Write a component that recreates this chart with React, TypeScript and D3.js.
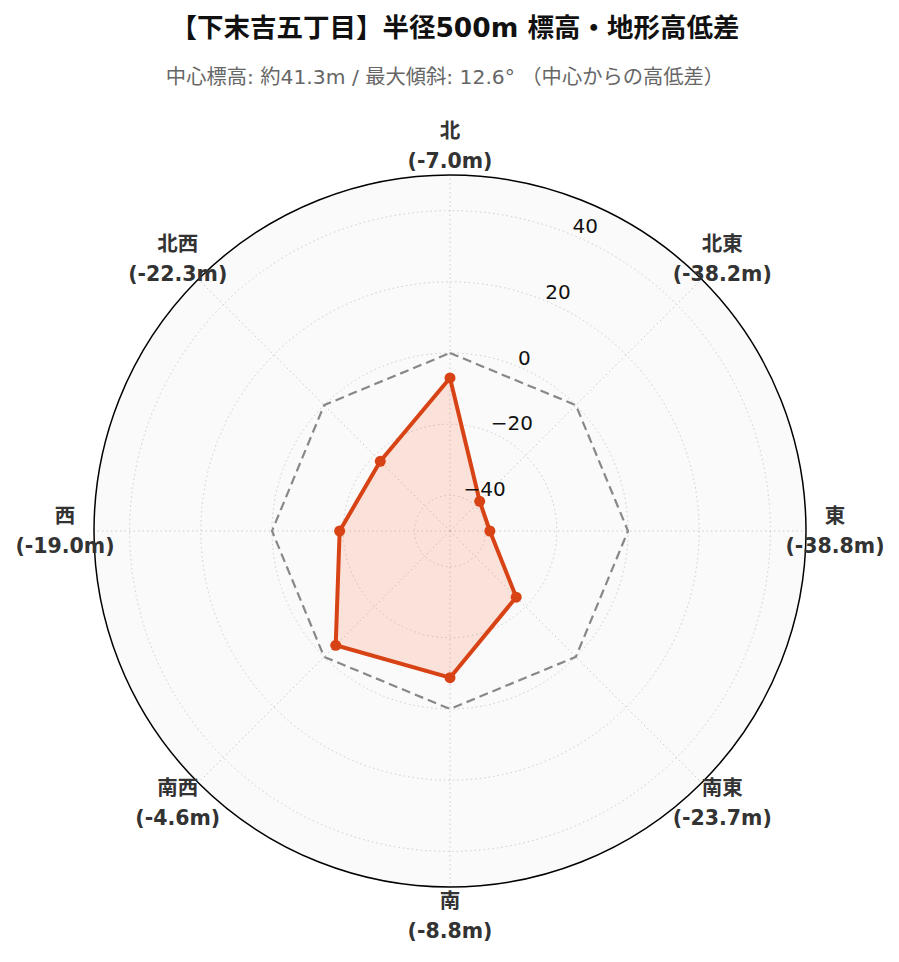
import React from "react";
import * as d3 from "d3";

const directions = ["北", "北東", "東", "南東", "南", "南西", "西", "北西"];
const diffs = [-7.0, -38.2, -38.8, -23.7, -8.8, -4.6, -19.0, -22.3];
const radialTicks = [-40, -20, 0, 20, 40];
const referenceLevel = 0;
const titleText = "【下末吉五丁目】半径500m 標高・地形高低差";
const subtitleText = "中心標高: 約41.3m / 最大傾斜: 12.6° （中心からの高低差）";

const W = 899;
const H = 962;
const cx = 450;
const cy = 531;
const R = 356;
const FONT = "'DejaVu Sans', 'Noto Sans CJK JP', sans-serif";

export default function App() {
  const r = d3.scaleLinear().domain([-50, 50]).range([0, R]);
  const ang = (i: number) => (i * 2 * Math.PI) / directions.length;
  const pt = (a: number, rr: number): [number, number] => [
    cx + rr * Math.sin(a),
    cy - rr * Math.cos(a),
  ];

  const dataPts = diffs.map((v, i) => pt(ang(i), r(v)));
  const refPts = directions.map((_, i) => pt(ang(i), r(referenceLevel)));
  const lineGen = d3.line<[number, number]>().curve(d3.curveLinearClosed);

  const labelR = 385;
  const rlabelAngle = (22.5 * Math.PI) / 180;

  return (
    <svg width={W} height={H} style={{ display: "block", position: "absolute", left: 0, top: 0 }}>
      <rect width={W} height={H} fill="#ffffff" />
      <text
        x={455}
        y={37}
        textAnchor="middle"
        fontFamily={FONT}
        fontWeight="bold"
        fontSize={26.5}
        fill="#111"
      >
        {titleText}
      </text>
      <text
        x={445}
        y={84}
        textAnchor="middle"
        fontFamily={FONT}
        fontSize={20.3}
        fill="#666"
      >
        {subtitleText}
      </text>

      <circle cx={cx} cy={cy} r={R} fill="#fafafa" />
      {radialTicks.map((t) => (
        <circle
          key={t}
          cx={cx}
          cy={cy}
          r={r(t)}
          fill="none"
          stroke="#cccccc"
          strokeWidth={1}
          strokeDasharray="1.5,3"
        />
      ))}
      {directions.map((d, i) => {
        const [x2, y2] = pt(ang(i), R);
        return (
          <line
            key={d}
            x1={cx}
            y1={cy}
            x2={x2}
            y2={y2}
            stroke="#cccccc"
            strokeWidth={1}
            strokeDasharray="1.5,3"
          />
        );
      })}

      <path
        d={lineGen(refPts) || ""}
        fill="none"
        stroke="#888888"
        strokeWidth={2.2}
        strokeDasharray="9,5"
      />

      <path
        d={lineGen(dataPts) || ""}
        fill="#ff5722"
        fillOpacity={0.15}
        stroke="#d84315"
        strokeWidth={4}
        strokeLinejoin="round"
      />
      {dataPts.map(([x, y], i) => (
        <circle key={i} cx={x} cy={y} r={5.5} fill="#d84315" />
      ))}

      {radialTicks.map((t) => {
        const [x, y] = pt(rlabelAngle, r(t));
        return (
          <text
            key={t}
            x={x}
            y={y - 2}
            fontFamily={FONT}
            fontSize={20}
            fill="#111"
          >
            {t < 0 ? "\u2212" + Math.abs(t) : String(t)}
          </text>
        );
      })}

      <circle cx={cx} cy={cy} r={R} fill="none" stroke="#000" strokeWidth={1.5} />

      {directions.map((d, i) => {
        const [x, y] = pt(ang(i), labelR);
        return (
          <text
            key={d}
            x={x}
            y={y}
            textAnchor="middle"
            fontFamily={FONT}
            fontWeight="bold"
            fontSize={20.5}
            fill="#333"
          >
            <tspan x={x} y={y - 15} dominantBaseline="central">
              {d}
            </tspan>
            <tspan x={x} y={y + 15} dominantBaseline="central">
              {`(${diffs[i].toFixed(1)}m)`}
            </tspan>
          </text>
        );
      })}
    </svg>
  );
}
